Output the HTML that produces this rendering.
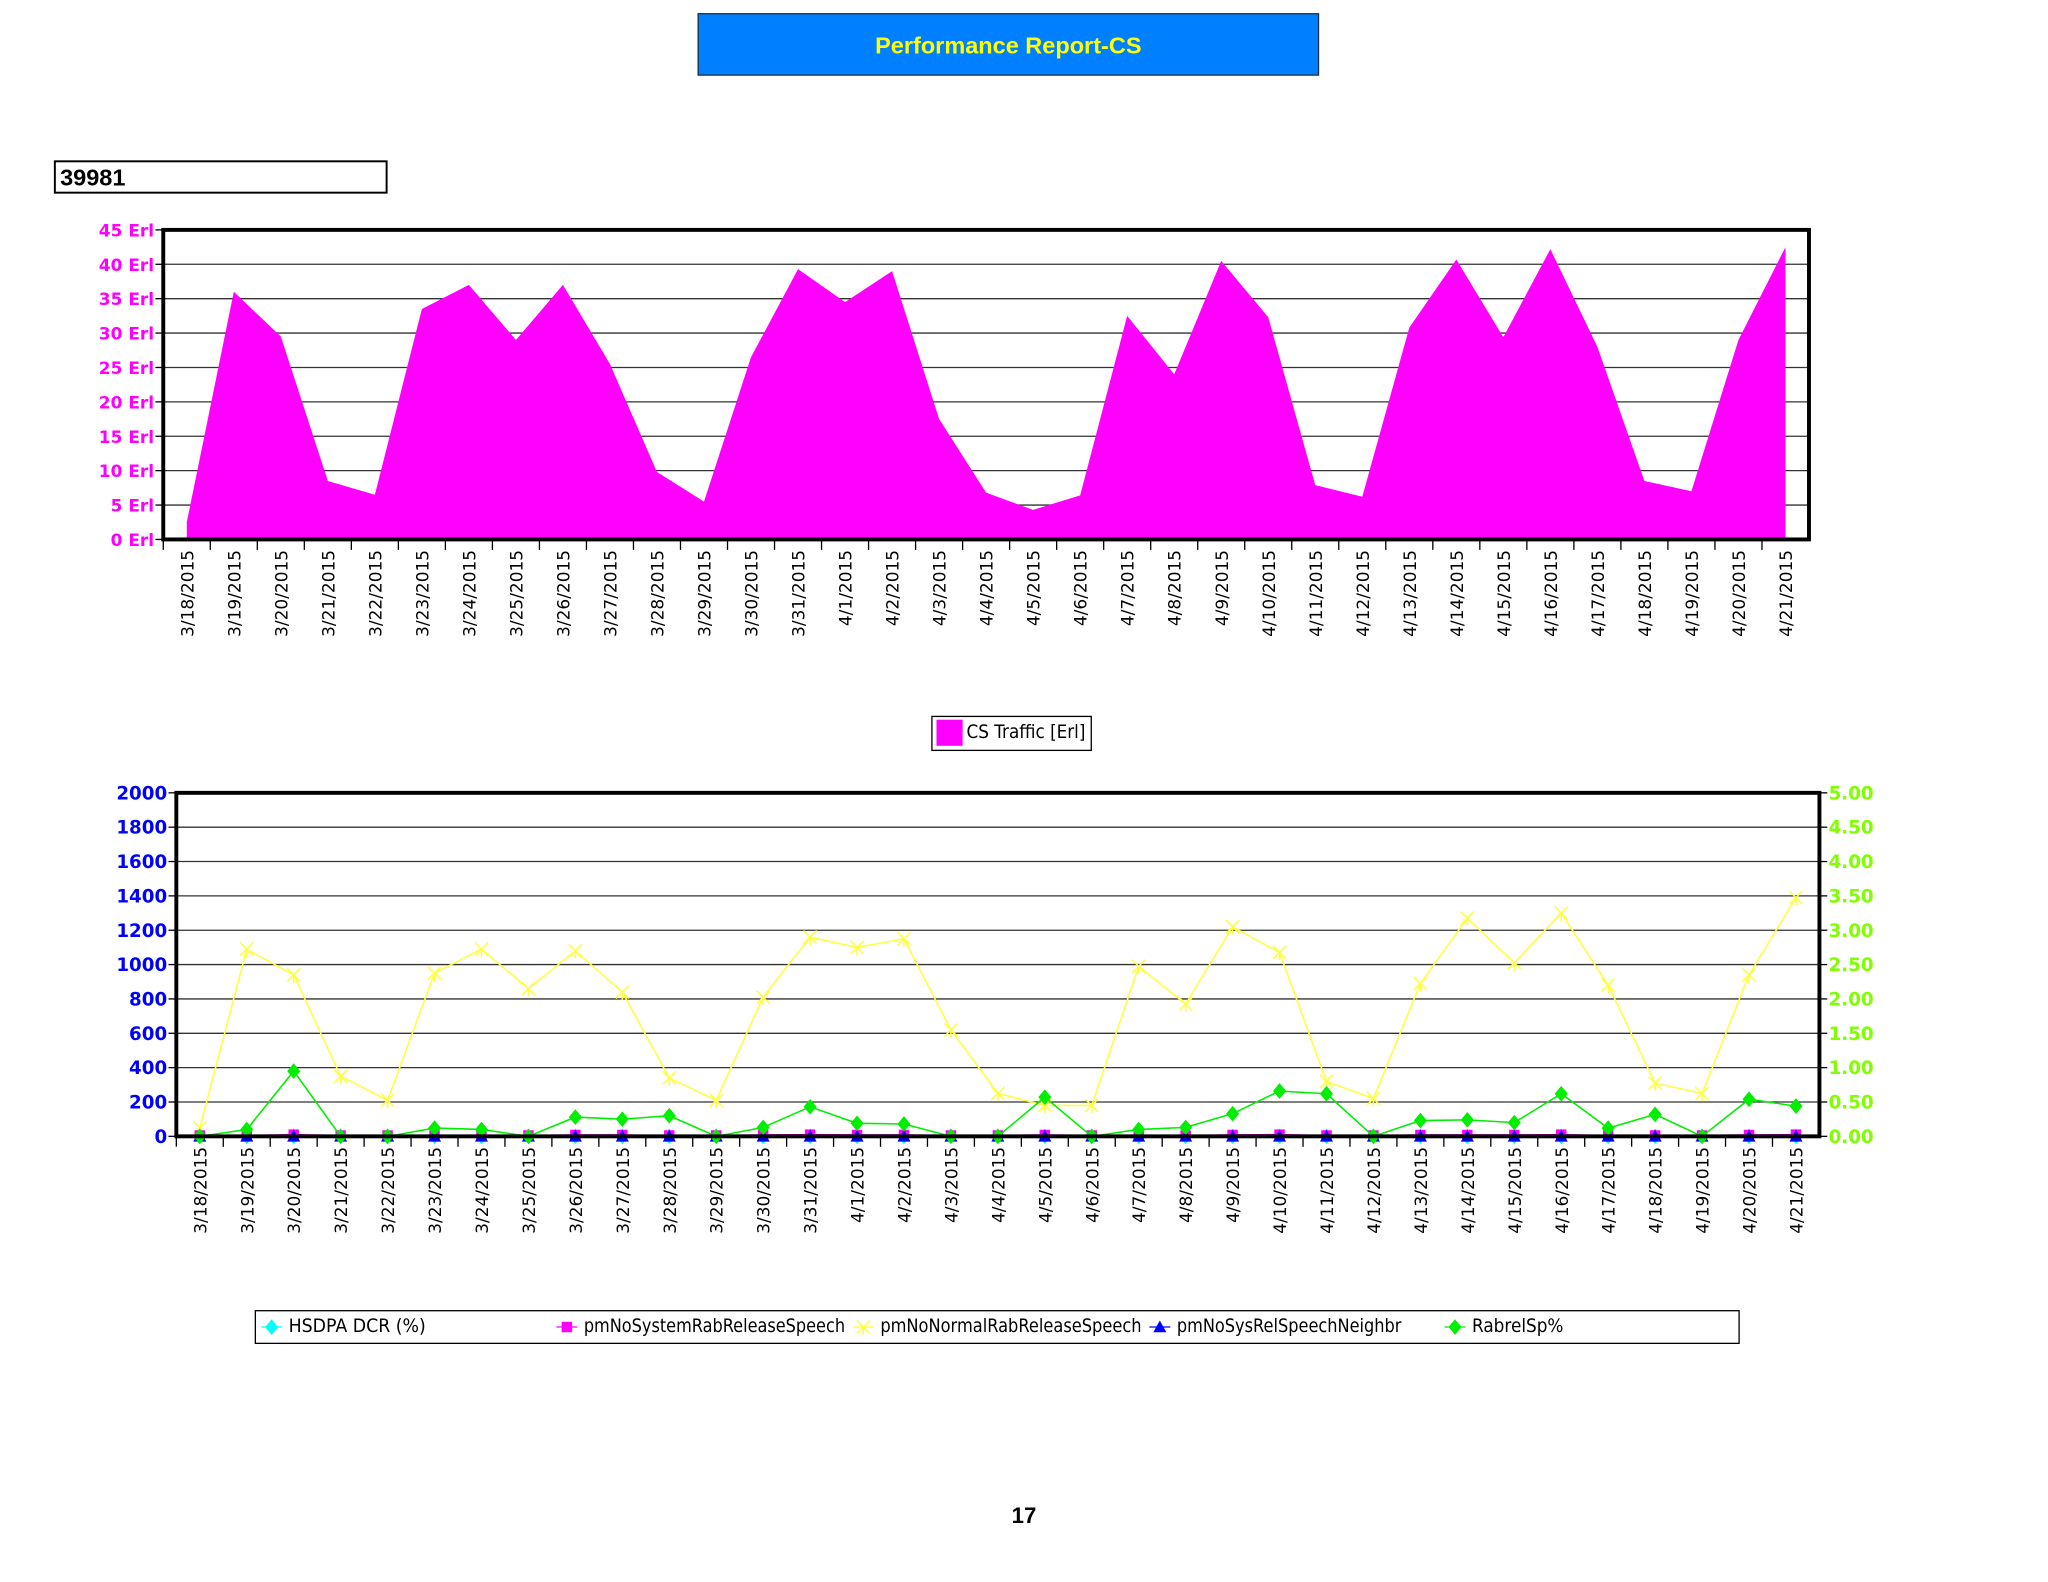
<!DOCTYPE html>
<html><head><meta charset="utf-8"><style>
html,body{margin:0;padding:0;background:#fff;}
svg{display:block;}
text{font-family:"DejaVu Sans","Liberation Sans",sans-serif;}
</style></head><body>
<svg id="page" width="2048" height="1582" viewBox="0 0 1568 1211.2" xmlns="http://www.w3.org/2000/svg">
<g>
<rect x="534.5" y="10.5" width="475" height="47" fill="#0080ff" stroke="#203040" stroke-width="1"/>
<text x="772" y="41" text-anchor="middle" font-weight="bold" font-size="18" fill="#ffff00" style="font-family:'Liberation Sans',sans-serif">Performance Report-CS</text>
</g>
<g>
<rect x="42" y="123.5" width="254" height="24" fill="#fff" stroke="#000" stroke-width="1.5"/>
<text x="46" y="142" font-weight="bold" font-size="18" fill="#000" style="font-family:'Liberation Sans',sans-serif">39981</text>
</g>
<g id="top"></g>
<g>
<rect x="713.5" y="548.5" width="122" height="26" fill="#fff" stroke="#000" stroke-width="1"/>
<rect x="717" y="551" width="20" height="20" fill="#ff00ff"/>
<text x="740" y="565" font-size="14" fill="#000" textLength="91" lengthAdjust="spacingAndGlyphs">CS Traffic [Erl]</text>
</g>
<g id="bot"></g>
<g id="leg">
<rect x="195.5" y="1003.5" width="1136" height="25" fill="#fff" stroke="#000" stroke-width="1"/>
</g>
<text x="784" y="1166" text-anchor="middle" font-weight="bold" font-size="17" style="font-family:'Liberation Sans',sans-serif">17</text>
</svg>
<script>
const dates=["3/18/2015","3/19/2015","3/20/2015","3/21/2015","3/22/2015","3/23/2015","3/24/2015","3/25/2015","3/26/2015","3/27/2015","3/28/2015","3/29/2015","3/30/2015","3/31/2015","4/1/2015","4/2/2015","4/3/2015","4/4/2015","4/5/2015","4/6/2015","4/7/2015","4/8/2015","4/9/2015","4/10/2015","4/11/2015","4/12/2015","4/13/2015","4/14/2015","4/15/2015","4/16/2015","4/17/2015","4/18/2015","4/19/2015","4/20/2015","4/21/2015"];
const csTraffic=[2.5,36,29.5,8.5,6.5,33.5,37,29,37,25.5,9.8,5.5,26.5,39.3,34.5,39,17.5,6.8,4.3,6.4,32.5,24,40.5,32.3,7.9,6.2,30.8,40.7,29.4,42.2,28,8.5,7,29,42.5];
const normalRel=[50,1090,940,350,210,950,1090,860,1080,840,340,210,810,1160,1100,1150,620,250,180,180,990,770,1220,1070,320,220,890,1270,1010,1300,880,310,250,940,1390];
const systemRel=[5,5,10,5,5,5,5,5,8,8,5,5,8,10,8,8,5,5,8,5,5,5,8,10,5,5,8,8,8,10,5,5,5,8,10];
const neighRel=[0,0,0,0,0,0,0,0,0,0,0,0,0,0,0,0,0,0,0,0,0,0,0,0,0,0,0,0,0,0,0,0,0,0,0];
const hsdpaDcr=[0,0,0,0,0,0,0,0,0,0,0,0,0,0,0,0,0,0,0,0,0,0,0,0,0,0,0,0,0,0,0,0,0,0,0];
const rabrelSp=[0,0.1,0.95,0,0,0.12,0.1,0,0.28,0.25,0.3,0,0.13,0.43,0.19,0.18,0,0,0.57,0,0.1,0.13,0.33,0.66,0.62,0,0.23,0.24,0.2,0.62,0.12,0.32,0,0.54,0.44];
const topTicks=["0 Erl","5 Erl","10 Erl","15 Erl","20 Erl","25 Erl","30 Erl","35 Erl","40 Erl","45 Erl"];
const leftTicks=["0","200","400","600","800","1000","1200","1400","1600","1800","2000"];
const rightTicks=["0.00","0.50","1.00","1.50","2.00","2.50","3.00","3.50","4.00","4.50","5.00"];
const NS="http://www.w3.org/2000/svg";
function mk(p,t,a){const e=document.createElementNS(NS,t);for(const k in a)e.setAttribute(k,a[k]);p.appendChild(e);return e;}
const T=document.getElementById('top');
const tx0=125,tx1=1385,ty0=413,ty1=176,tMax=45;
const tStep=(tx1-tx0)/dates.length;
const txs=i=>tx0+tStep*(i+0.5), tys=v=>ty0-(ty0-ty1)*v/tMax;
topTicks.forEach((l,i)=>{const y=tys(i*5);
 if(i>0&&i<9){const g=mk(T,'line',{x1:tx0,x2:tx1,y1:y,y2:y,stroke:'#333','stroke-width':1});}
 mk(T,'line',{x1:tx0-6,x2:tx0,y1:y,y2:y,stroke:'#000'});
 const t=mk(T,'text',{x:tx0-7,y:y+5,'text-anchor':'end','font-size':13,'font-weight':'bold',fill:'#ff00ff'});t.textContent=l;
 });
let d='M'+txs(0)+','+ty0;
csTraffic.forEach((v,i)=>d+=' L'+txs(i)+','+tys(v));
d+=' L'+txs(dates.length-1)+','+ty0+' Z';
const ar=mk(T,'path',{d:d,fill:'#ff00ff'});

mk(T,'rect',{x:tx0,y:ty1,width:tx1-tx0,height:ty0-ty1,fill:'none',stroke:'#000','stroke-width':3});
dates.forEach((l,i)=>{const x=tx0+tStep*i;mk(T,'line',{x1:x,x2:x,y1:ty0,y2:ty0+8,stroke:'#000'});
 const t=mk(T,'text',{transform:`translate(${txs(i)+5},${ty0+8}) rotate(-90)`,'text-anchor':'end','font-size':13,fill:'#000'});t.textContent=l;
 });
const B=document.getElementById('bot');
const bx0=135,bx1=1393,by0=870,by1=607;
const bStep=(bx1-bx0)/dates.length;
const bxs=i=>bx0+bStep*(i+0.5), byL=v=>by0-(by0-by1)*v/2000, byR=v=>by0-(by0-by1)*v/5;
leftTicks.forEach((l,i)=>{const y=by0-(by0-by1)*i/10;
 if(i>0&&i<10){const g=mk(B,'line',{x1:bx0,x2:bx1,y1:y,y2:y,stroke:'#333','stroke-width':1});}
 mk(B,'line',{x1:bx0-6,x2:bx0,y1:y,y2:y,stroke:'#000'});
 mk(B,'line',{x1:bx1,x2:bx1+6,y1:y,y2:y,stroke:'#000'});
 const t=mk(B,'text',{x:bx0-7,y:y+5,'text-anchor':'end','font-size':14,'font-weight':'bold',fill:'#0000ff'});t.textContent=l;
 
 const r=mk(B,'text',{x:bx1+7,y:y+5,'font-size':14,'font-weight':'bold',fill:'#80ff00'});r.textContent=rightTicks[i];
 });
function line(vals,ys,col,name,marker){
 const g=mk(B,'g',{});
 mk(g,'polyline',{points:vals.map((v,i)=>bxs(i)+','+ys(v)).join(' '),fill:'none',stroke:col,'stroke-width':1.2});
 vals.forEach((v,i)=>drawMarker(g,marker,bxs(i),ys(v),col));}
function drawMarker(g,m,x,y,c){
 if(m==='dia')mk(g,'path',{d:`M${x},${y-6}L${x+5},${y}L${x},${y+6}L${x-5},${y}Z`,fill:c});
 else if(m==='sq')mk(g,'rect',{x:x-4,y:y-4,width:8,height:8,fill:c});
 else if(m==='tri')mk(g,'path',{d:`M${x},${y-5}L${x+5},${y+4}L${x-5},${y+4}Z`,fill:c});
 else if(m==='x'){mk(g,'path',{d:`M${x-5},${y-5}L${x+5},${y+5}M${x+5},${y-5}L${x-5},${y+5}M${x},${y}L${x},${y+6}`,stroke:c,'stroke-width':1.2,fill:'none'});}}
line(normalRel,byL,'#ffff40','normal-release-series','x');
line(hsdpaDcr,byR,'#00ffff','hsdpa-dcr-series','dia');
line(systemRel,byL,'#ff00ff','system-release-series','sq');
line(neighRel,byL,'#0000ff','neighbr-release-series','tri');
line(rabrelSp,byR,'#00ee00','rabrelsp-series','dia');
mk(B,'rect',{x:bx0,y:by1,width:bx1-bx0,height:by0-by1,fill:'none',stroke:'#000','stroke-width':3});
dates.forEach((l,i)=>{const x=bx0+bStep*i;mk(B,'line',{x1:x,x2:x,y1:by0,y2:by0+8,stroke:'#000'});
 const t=mk(B,'text',{transform:`translate(${bxs(i)+5},${by0+8}) rotate(-90)`,'text-anchor':'end','font-size':13,fill:'#000'});t.textContent=l;
 });
const L=document.getElementById('leg');
const legItems=[["HSDPA DCR (%)",'#00ffff','dia',208,105],["pmNoSystemRabReleaseSpeech",'#ff00ff','sq',434,200],["pmNoNormalRabReleaseSpeech",'#ffff40','x',661,200],["pmNoSysRelSpeechNeighbr",'#0000ff','tri',888,172],["RabrelSp%",'#00ee00','dia',1114,70]];
legItems.forEach(it=>{const g=mk(L,'g',{});
 mk(g,'line',{x1:it[3]-8,x2:it[3]+8,y1:1016,y2:1016,stroke:it[1]});drawMarker(g,it[2],it[3],1016,it[1]);
 const t=mk(g,'text',{x:it[3]+13,y:1020,'font-size':14,fill:'#000',textLength:it[4],lengthAdjust:'spacingAndGlyphs'});t.textContent=it[0];});
</script>
</body></html>
